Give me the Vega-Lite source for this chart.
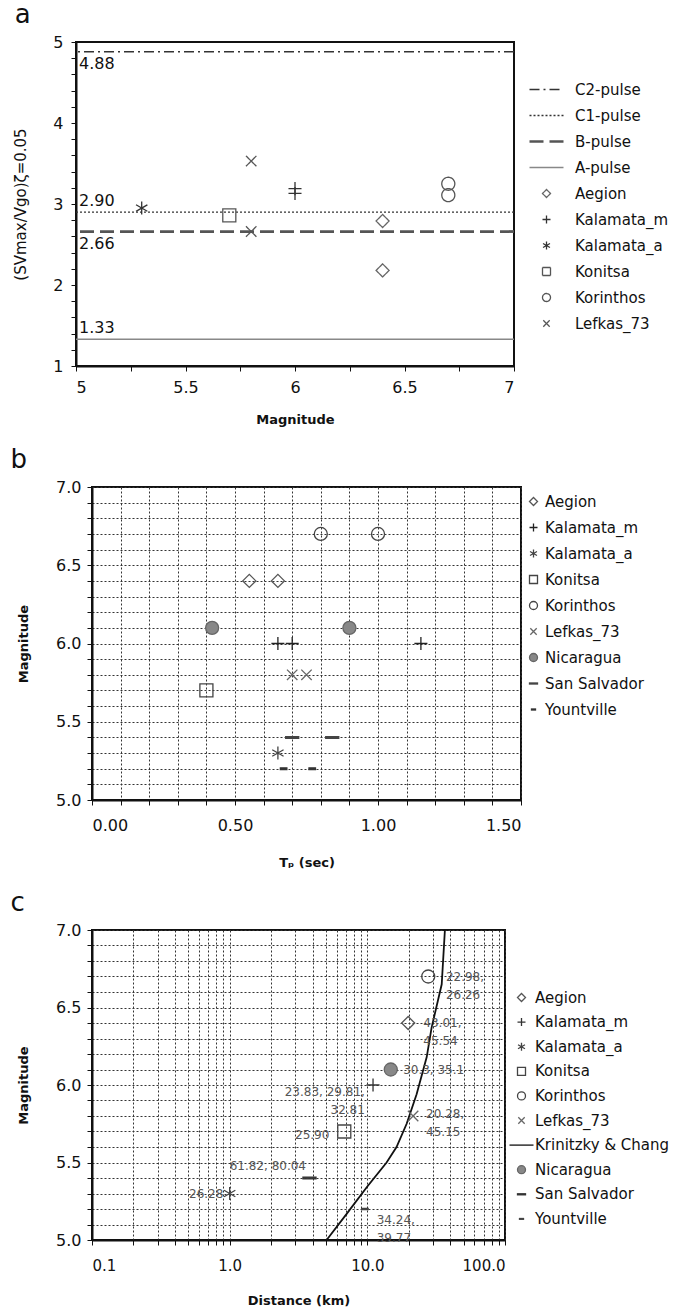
{
  "$schema": "https://vega.github.io/schema/vega-lite/v6.json",
  "background": "white",
  "padding": {"left": 2, "top": 1, "right": 0, "bottom": 0},
  "spacing": 19,
  "columns": 1,
  "resolve": {
    "scale": {"x": "independent", "y": "independent", "shape": "independent", "stroke": "independent", "fill": "independent", "strokeDash": "independent"},
    "legend": {"shape": "independent", "stroke": "independent", "fill": "independent", "strokeDash": "independent"},
    "axis": {"x": "independent", "y": "independent"}
  },
  "config": {
    "font": "DejaVu Sans",
    "view": {"stroke": "#111", "strokeWidth": 2},
    "axis": {"domainColor": "#111", "domainWidth": 2, "tickColor": "#111", "labelColor": "#111", "titleColor": "#111", "labelFont": "DejaVu Sans", "titleFont": "DejaVu Sans", "grid": false, "tickSize": 5, "labelFontSize": 16, "titleFontSize": 13, "titleFontWeight": "bold", "labelPadding": 10, "titlePadding": 10, "labelOverlap": false},
    "legend": {"labelFont": "DejaVu Sans", "labelFontSize": 15, "labelColor": "#111", "labelLimit": 400, "padding": 0, "title": null, "symbolStrokeWidth": 1.3},
    "title": {"fontSize": 26, "fontWeight": "normal", "color": "#111", "anchor": "start", "frame": "bounds", "offset": 6, "font": "DejaVu Sans"}
  },
  "datasets": {
    "pulses": [
      {"series": "C2-pulse", "ratio": 4.88, "label": "4.88", "side": "below"},
      {"series": "C1-pulse", "ratio": 2.90, "label": "2.90", "side": "above"},
      {"series": "B-pulse", "ratio": 2.66, "label": "2.66", "side": "below"},
      {"series": "A-pulse", "ratio": 1.33, "label": "1.33", "side": "above"}
    ],
    "a_pts": [
      {"series": "Kalamata_a", "mag": 5.3, "ratio": 2.95},
      {"series": "Konitsa", "mag": 5.7, "ratio": 2.86},
      {"series": "Lefkas_73", "mag": 5.8, "ratio": 3.53},
      {"series": "Lefkas_73", "mag": 5.8, "ratio": 2.66},
      {"series": "Kalamata_m", "mag": 6.0, "ratio": 3.19},
      {"series": "Kalamata_m", "mag": 6.0, "ratio": 3.13},
      {"series": "Aegion", "mag": 6.4, "ratio": 2.79},
      {"series": "Aegion", "mag": 6.4, "ratio": 2.18},
      {"series": "Korinthos", "mag": 6.7, "ratio": 3.25},
      {"series": "Korinthos", "mag": 6.7, "ratio": 3.11}
    ],
    "b_pts": [
      {"series": "Aegion", "tp": 0.55, "mag": 6.4},
      {"series": "Aegion", "tp": 0.65, "mag": 6.4},
      {"series": "Kalamata_m", "tp": 0.65, "mag": 6.0},
      {"series": "Kalamata_m", "tp": 0.70, "mag": 6.0},
      {"series": "Kalamata_m", "tp": 1.15, "mag": 6.0},
      {"series": "Kalamata_a", "tp": 0.65, "mag": 5.3},
      {"series": "Konitsa", "tp": 0.40, "mag": 5.7},
      {"series": "Korinthos", "tp": 0.80, "mag": 6.7},
      {"series": "Korinthos", "tp": 1.00, "mag": 6.7},
      {"series": "Lefkas_73", "tp": 0.70, "mag": 5.8},
      {"series": "Lefkas_73", "tp": 0.75, "mag": 5.8},
      {"series": "Nicaragua", "tp": 0.42, "mag": 6.1},
      {"series": "Nicaragua", "tp": 0.90, "mag": 6.1},
      {"series": "San Salvador", "tp": 0.70, "mag": 5.4},
      {"series": "San Salvador", "tp": 0.84, "mag": 5.4},
      {"series": "Yountville", "tp": 0.67, "mag": 5.2},
      {"series": "Yountville", "tp": 0.77, "mag": 5.2}
    ],
    "c_pts": [
      {"series": "Aegion", "km": 19.8, "mag": 6.4},
      {"series": "Kalamata_m", "km": 11.0, "mag": 6.0},
      {"series": "Kalamata_a", "km": 1.0, "mag": 5.3},
      {"series": "Konitsa", "km": 6.8, "mag": 5.7},
      {"series": "Korinthos", "km": 27.7, "mag": 6.7},
      {"series": "Lefkas_73", "km": 21.5, "mag": 5.8},
      {"series": "Nicaragua", "km": 14.8, "mag": 6.1},
      {"series": "San Salvador", "km": 3.8, "mag": 5.4},
      {"series": "Yountville", "km": 9.6, "mag": 5.2}
    ],
    "c_labels": [
      {"label": "22.98,\n26.26", "km": 37.2, "mag": 6.70, "side": "right"},
      {"label": "43.01,\n45.54", "km": 25.5, "mag": 6.40, "side": "right"},
      {"label": "30.3, 35.1", "km": 18.2, "mag": 6.10, "side": "right"},
      {"label": "20.28,\n45.15", "km": 26.7, "mag": 5.81, "side": "right"},
      {"label": "61.82, 80.04", "km": 1.0, "mag": 5.48, "side": "right"},
      {"label": "34.24,\n39.77", "km": 11.7, "mag": 5.13, "side": "right"},
      {"label": "23.83, 29.81,\n32.81", "km": 9.6, "mag": 5.955, "side": "left"},
      {"label": "25.90", "km": 5.3, "mag": 5.68, "side": "left"},
      {"label": "26.28", "km": 0.9, "mag": 5.3, "side": "left"}
    ],
    "kc": [
      {"km": 5.06, "mag": 5.0},
      {"km": 7.1, "mag": 5.17},
      {"km": 9.9, "mag": 5.34},
      {"km": 13.8, "mag": 5.5},
      {"km": 16.3, "mag": 5.6},
      {"km": 19.3, "mag": 5.75},
      {"km": 22.8, "mag": 5.94},
      {"km": 27.0, "mag": 6.18},
      {"km": 29.3, "mag": 6.37},
      {"km": 34.7, "mag": 6.65},
      {"km": 36.6, "mag": 7.0}
    ]
  },
  "concat": [
    {
      "spacing": 0,
      "hconcat": [
        {"width": 7, "height": 1, "view": {"stroke": null}, "data": {"values": [{"k": 1}]}, "mark": {"type": "point", "opacity": 0}, "encoding": {}},
        {
          "title": {"text": "a", "dx": 1},
          "width": 438,
          "height": 324,
          "encoding": {
            "y": {"field": "ratio", "type": "quantitative", "scale": {"domain": [1, 5], "nice": false, "zero": false},
              "axis": {"values": [1, 1.2, 1.4, 1.6, 1.8, 2, 2.2, 2.4, 2.6, 2.8, 3, 3.2, 3.4, 3.6, 3.8, 4, 4.2, 4.4, 4.6, 4.8, 5], "format": "~g", "labelExpr": "datum.value == round(datum.value) ? datum.label : ''", "title": "(SVmax/Vgo)ζ=0.05", "titleFontWeight": "normal", "titleFontSize": 15, "labelPadding": 8, "titlePadding": 24}}
          },
          "layer": [
            {
              "data": {"name": "pulses"},
              "mark": {"type": "rule"},
              "encoding": {
                "stroke": {"field": "series", "type": "ordinal", "legend": {"title": null, "orient": "none", "legendX": 534, "legendY": 40, "symbolSize": 64, "labelOffset": 21, "rowPadding": 10, "labelFontSize": 15}, "scale": {"domain": ["C2-pulse", "C1-pulse", "B-pulse", "A-pulse", "Aegion", "Kalamata_m", "Kalamata_a", "Konitsa", "Korinthos", "Lefkas_73"], "range": ["#333", "#333", "#555", "#888", "#666", "#333", "#333", "#555", "#555", "#555"]}},
                "strokeDash": {"field": "series", "type": "ordinal", "legend": {"title": null, "orient": "none", "legendX": 534, "legendY": 40, "symbolSize": 64, "labelOffset": 21, "rowPadding": 10, "labelFontSize": 15}, "scale": {"domain": ["C2-pulse", "C1-pulse", "B-pulse", "A-pulse", "Aegion", "Kalamata_m", "Kalamata_a", "Konitsa", "Korinthos", "Lefkas_73"], "range": [[10, 4, 2, 4], [2, 2], [14, 6], [1, 0], [1, 0], [1, 0], [1, 0], [1, 0], [1, 0], [1, 0]]}},
                "strokeWidth": {"condition": {"test": "datum.series == 'B-pulse'", "value": 2.8}, "value": 1.4}
              }
            },
            {
              "data": {"name": "pulses"},
              "transform": [{"filter": "datum.side == 'below'"}],
              "mark": {"type": "text", "align": "left", "baseline": "middle", "dx": 3, "dy": 12, "fontSize": 16, "color": "#111"},
              "encoding": {
                "x": {"datum": 5, "type": "quantitative", "scale": {"domain": [5, 7], "nice": false, "zero": false}},
                "text": {"field": "label"}
              }
            },
            {
              "data": {"name": "pulses"},
              "transform": [{"filter": "datum.side == 'above'"}],
              "mark": {"type": "text", "align": "left", "baseline": "middle", "dx": 3, "dy": -11, "fontSize": 16, "color": "#111"},
              "encoding": {
                "x": {"datum": 5, "type": "quantitative", "scale": {"domain": [5, 7], "nice": false, "zero": false}},
                "text": {"field": "label"}
              }
            },
            {
              "data": {"name": "a_pts"},
              "mark": {"type": "point", "filled": false, "size": 170, "opacity": 1, "strokeWidth": 1.3},
              "encoding": {
                "x": {"field": "mag", "type": "quantitative", "scale": {"domain": [5, 7], "nice": false, "zero": false},
                  "axis": {"values": [5, 5.25, 5.5, 5.75, 6, 6.25, 6.5, 6.75, 7], "format": "~g", "labelExpr": "datum.value * 2 == round(datum.value * 2) ? datum.label : ''", "title": "Magnitude", "labelPadding": 8, "titlePadding": 18}},
                "shape": {"field": "series", "type": "ordinal",
                  "scale": {"domain": ["C2-pulse", "C1-pulse", "B-pulse", "A-pulse", "Aegion", "Kalamata_m", "Kalamata_a", "Konitsa", "Korinthos", "Lefkas_73"], "range": ["M-4.25,0H4.25", "M-4.25,0H4.25", "M-4.25,-0.12H4.25M-4.25,0.12H4.25", "M-4.25,0H4.25", "diamond", "M-1,0H1M0,-1V1", "M0,-1V1M-0.87,-0.5L0.87,0.5M-0.87,0.5L0.87,-0.5", "square", "circle", "M-0.8,-0.8L0.8,0.8M-0.8,0.8L0.8,-0.8"]},
                  "legend": {"title": null, "orient": "none", "legendX": 534, "legendY": 40, "symbolSize": 64, "labelOffset": 21, "rowPadding": 10, "labelFontSize": 15}},
                "stroke": {"field": "series", "type": "ordinal", "scale": {"domain": ["C2-pulse", "C1-pulse", "B-pulse", "A-pulse", "Aegion", "Kalamata_m", "Kalamata_a", "Konitsa", "Korinthos", "Lefkas_73"], "range": ["#333", "#333", "#555", "#888", "#666", "#333", "#333", "#555", "#555", "#555"]}},
                "strokeDash": {"field": "series", "type": "ordinal", "scale": {"domain": ["C2-pulse", "C1-pulse", "B-pulse", "A-pulse", "Aegion", "Kalamata_m", "Kalamata_a", "Konitsa", "Korinthos", "Lefkas_73"], "range": [[10, 4, 2, 4], [2, 2], [14, 6], [1, 0], [1, 0], [1, 0], [1, 0], [1, 0], [1, 0], [1, 0]]}}
              }
            }
          ]
        }
      ]
    },
    {
      "spacing": 0,
      "hconcat": [
        {"width": 1, "height": 1, "view": {"stroke": null}, "data": {"values": [{"k": 1}]}, "mark": {"type": "point", "opacity": 0}, "encoding": {}},
        {
          "title": {"text": "b", "dx": -7},
          "width": 429,
          "height": 313,
          "layer": [
            {
              "data": {"name": "b_pts"},
              "mark": {"type": "point", "filled": false, "size": 170, "opacity": 1, "strokeWidth": 1.3},
              "encoding": {
                "x": {"field": "tp", "type": "quantitative", "scale": {"domain": [0, 1.5], "nice": false},
                  "axis": {"values": [0, 0.1, 0.2, 0.3, 0.4, 0.5, 0.6, 0.7, 0.8, 0.9, 1, 1.1, 1.2, 1.3, 1.4, 1.5], "format": ".2f", "labelExpr": "abs(datum.value * 2 - round(datum.value * 2)) < 0.001 ? datum.label : ''", "title": "Tₚ (sec)", "grid": true, "gridDash": [2, 2], "gridColor": "#333", "gridWidth": 1, "labelPadding": 12, "titlePadding": 23}},
                "y": {"field": "mag", "type": "quantitative", "scale": {"domain": [5, 7], "nice": false, "zero": false},
                  "axis": {"values": [5, 5.1, 5.2, 5.3, 5.4, 5.5, 5.6, 5.7, 5.8, 5.9, 6, 6.1, 6.2, 6.3, 6.4, 6.5, 6.6, 6.7, 6.8, 6.9, 7], "format": ".1f", "labelExpr": "abs(datum.value * 2 - round(datum.value * 2)) < 0.001 ? datum.label : ''", "title": "Magnitude", "grid": true, "gridDash": [2, 2], "gridColor": "#333", "gridWidth": 1, "labelPadding": 6, "titlePadding": 25}},
                "shape": {"field": "series", "type": "ordinal",
                  "scale": {"domain": ["Aegion", "Kalamata_m", "Kalamata_a", "Konitsa", "Korinthos", "Lefkas_73", "Nicaragua", "San Salvador", "Yountville"], "range": ["diamond", "M-1,0H1M0,-1V1", "M0,-1V1M-0.87,-0.5L0.87,0.5M-0.87,0.5L0.87,-0.5", "square", "circle", "M-0.8,-0.8L0.8,0.8M-0.8,0.8L0.8,-0.8", "circle", "M-1,-0.13H1V0.13H-1Z", "M-0.5,-0.13H0.5V0.13H-0.5Z"]},
                  "legend": {"title": null, "orient": "none", "legendX": 521, "legendY": 7, "symbolSize": 64, "labelOffset": 4, "rowPadding": 10, "labelFontSize": 15}},
                "stroke": {"field": "series", "type": "ordinal", "scale": {"domain": ["Aegion", "Kalamata_m", "Kalamata_a", "Konitsa", "Korinthos", "Lefkas_73", "Nicaragua", "San Salvador", "Yountville"], "range": ["#555", "#222", "#444", "#444", "#444", "#666", "#666", "#444", "#333"]}},
                "fill": {"field": "series", "type": "ordinal", "scale": {"domain": ["Aegion", "Kalamata_m", "Kalamata_a", "Konitsa", "Korinthos", "Lefkas_73", "Nicaragua", "San Salvador", "Yountville"], "range": ["transparent", "transparent", "transparent", "transparent", "transparent", "transparent", "#888", "#444", "#333"]}}
              }
            }
          ]
        }
      ]
    },
    {
      "spacing": 0,
      "hconcat": [
        {"width": 1, "height": 1, "view": {"stroke": null}, "data": {"values": [{"k": 1}]}, "mark": {"type": "point", "opacity": 0}, "encoding": {}},
        {
          "title": {"text": "c", "dx": -7},
          "width": 413,
          "height": 310,
          "encoding": {
            "x": {"field": "km", "type": "quantitative", "scale": {"type": "log", "domain": [0.1, 100], "nice": false},
              "axis": {"values": [0.1, 0.2, 0.3, 0.4, 0.5, 0.6, 0.7, 0.8, 0.9, 1, 2, 3, 4, 5, 6, 7, 8, 9, 10, 20, 30, 40, 50, 60, 70, 80, 90, 100], "labelExpr": "abs(log(datum.value) / LN10 - round(log(datum.value) / LN10)) < 0.001 ? format(datum.value, '.1f') : ''", "title": "Distance (km)", "grid": true, "gridDash": [2, 2], "gridColor": "#333", "gridWidth": 1, "labelFontSize": 15, "labelPadding": 13, "titlePadding": 21}},
            "y": {"field": "mag", "type": "quantitative", "scale": {"domain": [5, 7], "nice": false, "zero": false},
              "axis": {"values": [5, 5.1, 5.2, 5.3, 5.4, 5.5, 5.6, 5.7, 5.8, 5.9, 6, 6.1, 6.2, 6.3, 6.4, 6.5, 6.6, 6.7, 6.8, 6.9, 7], "format": ".1f", "labelExpr": "abs(datum.value * 2 - round(datum.value * 2)) < 0.001 ? datum.label : ''", "title": "Magnitude", "grid": true, "gridDash": [2, 2], "gridColor": "#333", "gridWidth": 1, "labelPadding": 6, "titlePadding": 25}}
          },
          "layer": [
            {
              "data": {"name": "kc"},
              "mark": {"type": "line", "color": "#111", "strokeWidth": 1.8},
              "encoding": {
                "order": {"field": "mag", "type": "quantitative"}
              }
            },
            {
              "data": {"name": "c_labels"},
              "transform": [{"filter": "datum.side == 'right'"}],
              "mark": {"type": "text", "align": "left", "baseline": "middle", "fontSize": 12, "color": "#555", "lineBreak": "\n", "lineHeight": 18},
              "encoding": {
                "text": {"field": "label"}
              }
            },
            {
              "data": {"name": "c_labels"},
              "transform": [{"filter": "datum.side == 'left'"}],
              "mark": {"type": "text", "align": "right", "baseline": "middle", "fontSize": 12, "color": "#555", "lineBreak": "\n", "lineHeight": 18},
              "encoding": {
                "text": {"field": "label"}
              }
            },
            {
              "data": {"name": "c_pts"},
              "mark": {"type": "point", "filled": false, "size": 170, "opacity": 1, "strokeWidth": 1.3},
              "encoding": {
                "shape": {"field": "series", "type": "ordinal",
                  "scale": {"domain": ["Aegion", "Kalamata_m", "Kalamata_a", "Konitsa", "Korinthos", "Lefkas_73", "Krinitzky & Chang", "Nicaragua", "San Salvador", "Yountville"], "range": ["diamond", "M-1,0H1M0,-1V1", "M0,-1V1M-0.87,-0.5L0.87,0.5M-0.87,0.5L0.87,-0.5", "square", "circle", "M-0.8,-0.8L0.8,0.8M-0.8,0.8L0.8,-0.8", "M-3,0H3", "circle", "M-1,-0.13H1V0.13H-1Z", "M-0.5,-0.1H0.5V0.1H-0.5Z"]},
                  "legend": {"title": null, "orient": "none", "legendX": 509, "legendY": 60, "symbolSize": 64, "labelOffset": 6, "rowPadding": 8.6, "labelFontSize": 15}},
                "stroke": {"field": "series", "type": "ordinal", "scale": {"domain": ["Aegion", "Kalamata_m", "Kalamata_a", "Konitsa", "Korinthos", "Lefkas_73", "Krinitzky & Chang", "Nicaragua", "San Salvador", "Yountville"], "range": ["#555", "#333", "#444", "#444", "#444", "#666", "#111", "#666", "#333", "#444"]}},
                "fill": {"field": "series", "type": "ordinal", "scale": {"domain": ["Aegion", "Kalamata_m", "Kalamata_a", "Konitsa", "Korinthos", "Lefkas_73", "Krinitzky & Chang", "Nicaragua", "San Salvador", "Yountville"], "range": ["transparent", "transparent", "transparent", "transparent", "transparent", "transparent", "transparent", "#888", "#333", "#444"]}}
              }
            }
          ]
        }
      ]
    }
  ]
}
